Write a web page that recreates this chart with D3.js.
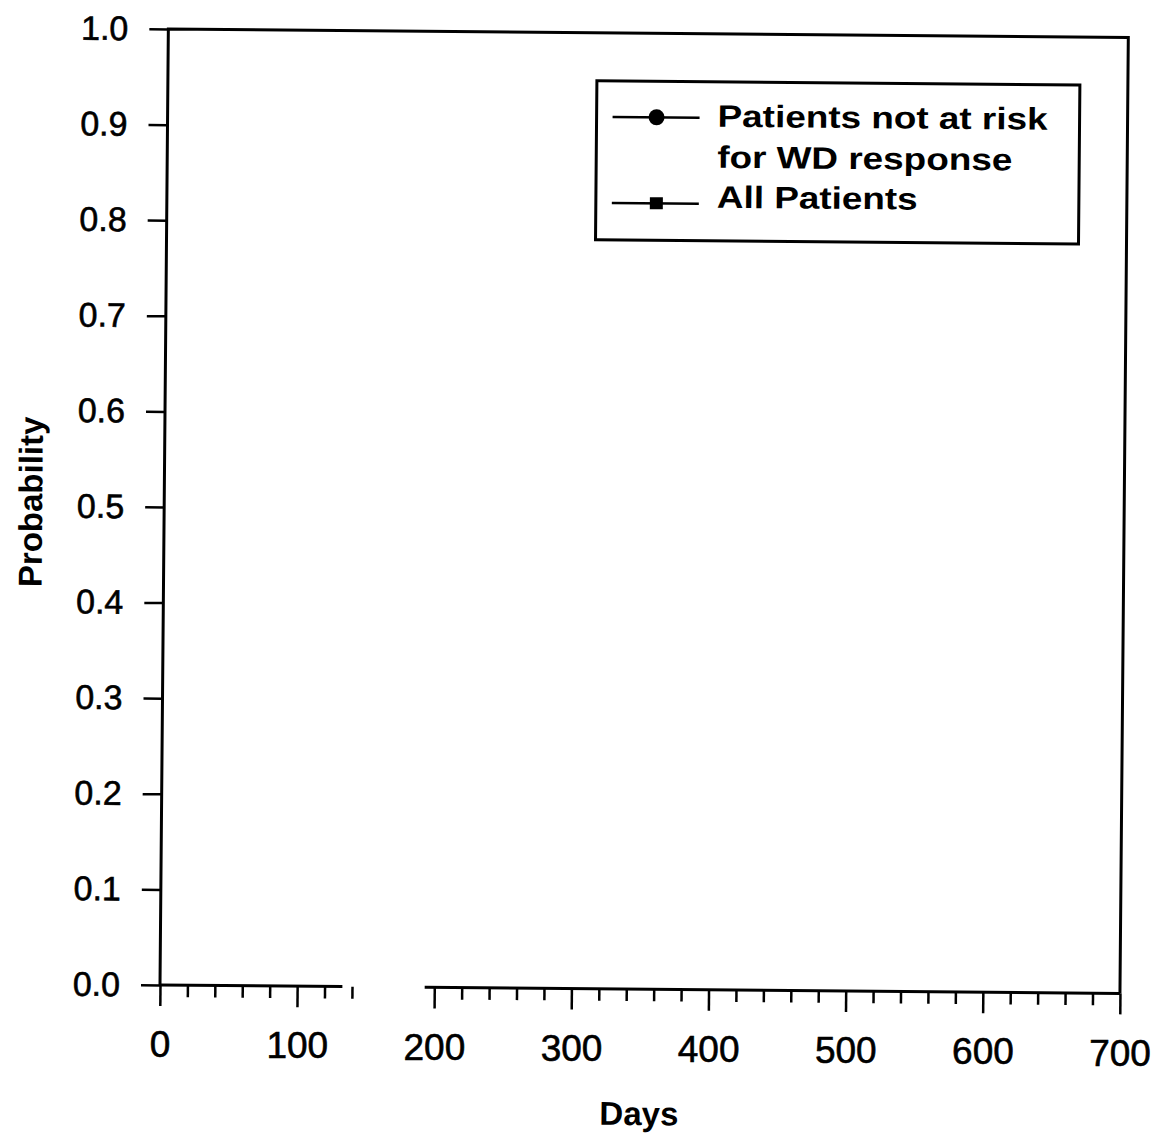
<!DOCTYPE html>
<html>
    <head>
        <meta charset="utf-8">
        <style>
        body { margin: 0; background: #fff; }
        svg { display: block; }
        .tick text {
            font-family: "Liberation Sans", Arial, sans-serif;
            fill: #000;
            stroke: #000;
            stroke-width: 0.6px;
        }
        .tick line { stroke: #000; stroke-width: 2.5; }
        .title {
            font-family: "Liberation Sans", Arial, sans-serif;
            font-weight: bold;
            fill: #000;
        }
        .legend text {
            font: bold 31px "Liberation Sans", Arial, sans-serif;
            fill: #000;
        }
        </style>
        <script src="https://d3js.org/d3.v7.min.js"></script>
    </head>

    <body>
        <svg width="1164" height="1138"></svg>

     <script>

        // axis ticks
        var xMajorTicks = [0, 100, 200, 300, 400, 500, 600, 700];
        var xMinorTicks = [20, 40, 60, 80, 120, 140,
                           220, 240, 260, 280, 320, 340, 360, 380,
                           420, 440, 460, 480, 520, 540, 560, 580,
                           620, 640, 660, 680];
        var yTicks = [0.0, 0.1, 0.2, 0.3, 0.4, 0.5, 0.6, 0.7, 0.8, 0.9, 1.0];

        // the x axis line is broken in the original between these days
        var xAxisGap = [133, 193];

        // legend entries
        var seriesNames = ["Patients not at risk\nfor WD response", "All Patients"];
        var seriesSymbols = ["circle", "square"];

        // the curves themselves did not survive in the scan, nothing readable
        var notAtRiskDays = [];
        var notAtRiskProb = [];
        var allPatientsDays = [];
        var allPatientsProb = [];

        var svg = d3.select("svg");

        var plotLeft = 160, plotRight = 1120, plotTop = 29, plotBottom = 985;
        var tilt = 0.5;

        // whole page is scanned slightly crooked
        var g = svg.append("g")
                   .attr("transform", "rotate(" + tilt + "," + plotLeft + "," + plotBottom + ")");

        var x = d3.scaleLinear().domain([0, 700]).range([plotLeft, plotRight]);
        var y = d3.scaleLinear().domain([0, 1]).range([plotBottom, plotTop]);

        // frame (left axis + top and right sides)
        g.append("path")
         .attr("d", "M" + plotLeft + "," + plotBottom + "V" + plotTop + "H" + plotRight + "V" + plotBottom)
         .attr("fill", "none")
         .attr("stroke", "#000")
         .attr("stroke-width", 3);

        // bottom axis line, in two pieces
        var segs = [[0, xAxisGap[0]], [xAxisGap[1], 700]];
        g.selectAll(".xseg")
         .data(segs)
         .enter().append("line")
         .attr("class", "xseg")
         .attr("x1", function(d) { return x(d[0]); })
         .attr("x2", function(d) { return x(d[1]); })
         .attr("y1", plotBottom)
         .attr("y2", plotBottom)
         .attr("stroke", "#000")
         .attr("stroke-width", 3);

        // y axis
        var yAxis = g.append("g")
                     .attr("transform", "translate(" + plotLeft + ",0)")
                     .call(d3.axisLeft(y)
                             .tickValues(yTicks)
                             .tickSize(19)
                             .tickPadding(21)
                             .tickFormat(d3.format(".1f")));
        yAxis.select(".domain").remove();
        yAxis.selectAll("text").style("font-size", "34px");

        // x axis, major ticks with labels
        var xAxis = g.append("g")
                     .attr("transform", "translate(0," + plotBottom + ")")
                     .call(d3.axisBottom(x)
                             .tickValues(xMajorTicks)
                             .tickSize(21)
                             .tickPadding(25));
        xAxis.select(".domain").remove();
        // labels in the scan sit level, so undo the tilt on them
        xAxis.selectAll(".tick text")
             .style("font-size", "37px")
             .attr("transform", function(d) {
                 return "rotate(" + (-tilt) + ",0,46)";
             });

        // x axis, minor ticks
        var xMinor = g.append("g")
                      .attr("transform", "translate(0," + plotBottom + ")")
                      .call(d3.axisBottom(x)
                              .tickValues(xMinorTicks)
                              .tickSize(12)
                              .tickFormat(""));
        xMinor.select(".domain").remove();

        // axis titles
        g.append("text")
         .attr("class", "title")
         .attr("x", 640)
         .attr("y", 1121)
         .attr("text-anchor", "middle")
         .style("font-size", "33px")
         .text("Days");

        g.append("text")
         .attr("class", "title")
         .attr("transform", "translate(38,503) rotate(-90)")
         .attr("text-anchor", "middle")
         .style("font-size", "33px")
         .text("Probability");

        // series lines (empty, kept so the legend matches the data)
        var line = d3.line()
                     .x(function(d) { return x(d[0]); })
                     .y(function(d) { return y(d[1]); });

        var series = [d3.zip(notAtRiskDays, notAtRiskProb),
                      d3.zip(allPatientsDays, allPatientsProb)];

        g.selectAll(".series")
         .data(series)
         .enter().append("path")
         .attr("class", "series")
         .attr("d", function(d) { return d.length ? line(d) : null; })
         .attr("fill", "none")
         .attr("stroke", "#000")
         .attr("stroke-width", 2);

        // legend
        var legend = g.append("g").attr("class", "legend");

        legend.append("rect")
              .attr("x", 589)
              .attr("y", 77)
              .attr("width", 483)
              .attr("height", 159)
              .attr("fill", "#fff")
              .attr("stroke", "#000")
              .attr("stroke-width", 3);

        var rowY = [113, 199];
        var rows = legend.selectAll(".row")
                         .data(seriesNames)
                         .enter().append("g")
                         .attr("class", "row")
                         .attr("transform", function(d, i) { return "translate(0," + rowY[i] + ")"; });

        rows.append("line")
            .attr("x1", 605)
            .attr("x2", 692)
            .attr("stroke", "#000")
            .attr("stroke-width", 2.5);

        rows.each(function(d, i) {
            var r = d3.select(this);
            if (seriesSymbols[i] == "circle") {
                r.append("circle").attr("cx", 649).attr("r", 8).attr("fill", "#000");
            } else {
                r.append("rect").attr("x", 643).attr("y", -6).attr("width", 13).attr("height", 12).attr("fill", "#000");
            }
        });

        // legend text is wider than the font, stretch it a bit
        var textG = legend.append("g")
                          .attr("transform", "translate(710,0) scale(1.19,1)");
        var baselines = [122, 163, 203];
        var lines = [];
        seriesNames.forEach(function(n) {
            n.split("\n").forEach(function(t) { lines.push(t); });
        });
        textG.selectAll("text")
             .data(lines)
             .enter().append("text")
             .attr("x", 0)
             .attr("y", function(d, i) { return baselines[i]; })
             .text(function(d) { return d; });

        </script>
    </body>
</html>
